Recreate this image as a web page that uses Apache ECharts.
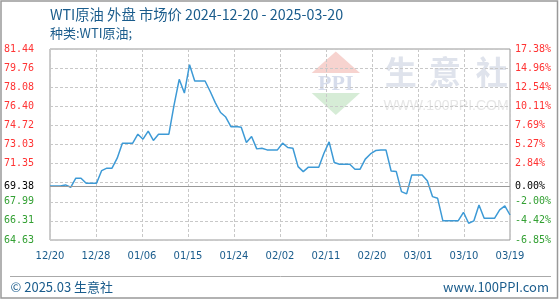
<!DOCTYPE html>
<html><head><meta charset="utf-8">
<script src="https://cdn.jsdelivr.net/npm/echarts@6/dist/echarts.min.js"></script>
<style>html,body{margin:0;padding:0;background:#fff}#c{width:560px;height:300px}</style>
</head><body><div id="c"></div>
<script>
const dates = [
'12/20','12/21','12/22','12/23','12/24','12/25','12/26','12/27','12/28','12/29','12/30','12/31',
'01/01','01/02','01/03','01/04','01/05','01/06','01/07','01/08','01/09','01/10','01/11','01/12','01/13','01/14','01/15','01/16','01/17','01/18','01/19','01/20','01/21','01/22','01/23','01/24','01/25','01/26','01/27','01/28','01/29','01/30','01/31',
'02/01','02/02','02/03','02/04','02/05','02/06','02/07','02/08','02/09','02/10','02/11','02/12','02/13','02/14','02/15','02/16','02/17','02/18','02/19','02/20','02/21','02/22','02/23','02/24','02/25','02/26','02/27','02/28',
'03/01','03/02','03/03','03/04','03/05','03/06','03/07','03/08','03/09','03/10','03/11','03/12','03/13','03/14','03/15','03/16','03/17','03/18','03/19'];
const prices = [
69.38,69.39,69.39,69.48,69.27,70.07,70.07,69.63,69.63,69.63,
70.74,70.95,70.95,71.83,73.15,73.15,73.15,73.94,73.50,74.21,
73.39,73.94,73.94,73.94,76.50,78.77,77.56,80.06,78.62,78.62,
78.62,77.70,76.70,75.85,75.45,74.60,74.62,74.56,73.21,73.74,
72.65,72.71,72.56,72.56,72.56,73.15,72.77,72.71,71.09,70.65,
71.04,71.04,71.04,72.27,73.27,71.45,71.30,71.30,71.30,70.86,
70.86,71.75,72.20,72.50,72.56,72.56,70.70,70.65,68.89,68.69,
70.36,70.36,70.36,69.85,68.45,68.30,66.33,66.33,66.33,66.33,
67.07,66.10,66.31,67.71,66.54,66.54,66.54,67.28,67.63,66.83];
const xTickLabels = ['12/20','12/28','01/06','01/15','01/24','02/02','02/11','02/20','03/01','03/10','03/19'];
const leftTicks = ['64.63','66.31','67.99','','71.35','73.03','74.72','76.40','78.08','79.76','81.44'];
const rightTicks = ['-6.85%','-4.42%','-2.00%','','2.84%','5.27%','7.69%','10.11%','12.54%','14.96%','17.38%'];
const baseValue = 69.38;
const baseLeft = '69.38';
const baseRight = '0.00%';
const yMin = 64.63, yMax = 81.44;
const titleText = 'WTI原油 外盘 市场价 2024-12-20 - 2025-03-20';
const subText = '种类:WTI原油;';

const RED = '#ff3333', GREEN = '#33a033', BLUE = '#1a5c8c';
const MONO = 'DejaVu Sans Mono';
const rich = {
  r: {color: RED, fontFamily: MONO, fontSize: 10},
  g: {color: GREEN, fontFamily: MONO, fontSize: 10}
};
function tickFmt(arr){
  return function(v){
    const i = Math.round(v); const t = arr[i];
    if(!t) return '';
    return '{' + (i < 3 ? 'g' : 'r') + '|' + t + '}';
  };
}
const chart = echarts.init(document.getElementById('c'), null, {renderer:'canvas'});
chart.setOption({
  animation: false,
  backgroundColor: '#fff',
  grid: {left: 50, right: 50, top: 49, bottom: 60, show: true, borderColor: '#999', borderWidth: 1, backgroundColor: 'transparent'},
  xAxis: [
    {type: 'category', data: dates, boundaryGap: false, show: false},
    {type: 'value', min: 0, max: 10, interval: 1, position: 'bottom',
     axisLine: {show: false}, axisTick: {show: false},
     splitLine: {show: true, lineStyle: {type: [3, 2], color: '#c8c8c8', width: 1}},
     axisLabel: {formatter: v => xTickLabels[Math.round(v)], color: BLUE, fontFamily: 'DejaVu Sans', fontSize: 10, margin: 11, showMinLabel: true, showMaxLabel: true}}
  ],
  yAxis: [
    {type: 'value', min: yMin, max: yMax, show: false},
    {type: 'value', min: 0, max: 10, interval: 1, position: 'left',
     axisLine: {show: false}, axisTick: {show: false},
     splitLine: {show: true, lineStyle: {type: [3, 2], color: '#c8c8c8', width: 1}},
     axisLabel: {formatter: tickFmt(leftTicks), rich: rich, margin: 16, showMinLabel: true, showMaxLabel: true}},
    {type: 'value', min: 0, max: 10, interval: 1, position: 'right',
     axisLine: {show: false}, axisTick: {show: false}, splitLine: {show: false},
     axisLabel: {formatter: tickFmt(rightTicks), rich: rich, margin: 5, showMinLabel: true, showMaxLabel: true}}
  ],
  graphic: [
    {type: 'rect', z: -10, shape: {x: 1, y: 1, width: 556.5, height: 297}, style: {fill: 'none', stroke: '#999', lineWidth: 1.5}},
    {type: 'polygon', z: -5, shape: {points: [[311.7, 73], [335.8, 51.5], [360, 73]]}, style: {fill: '#f7d3cf'}},
    {type: 'text', z: -5, style: {text: 'PPI', x: 335.8, y: 84, textAlign: 'center', textVerticalAlign: 'middle', font: 'bold 22px "Liberation Serif"', fill: '#d6dceb'}},
    {type: 'polygon', z: -5, shape: {points: [[311.7, 93], [360, 93], [335.8, 115]]}, style: {fill: '#d6ecd6'}},
    {type: 'text', z: -5, style: {text: '生', x: 400.7, y: 72, textAlign: 'center', textVerticalAlign: 'middle', font: 'bold 32px "Noto Sans CJK SC"', fill: '#dfe3ec'}},
    {type: 'text', z: -5, style: {text: '意', x: 445, y: 72, textAlign: 'center', textVerticalAlign: 'middle', font: 'bold 32px "Noto Sans CJK SC"', fill: '#dfe3ec'}},
    {type: 'text', z: -5, style: {text: '社', x: 491.7, y: 72, textAlign: 'center', textVerticalAlign: 'middle', font: 'bold 32px "Noto Sans CJK SC"', fill: '#dfe3ec'}},
    {type: 'text', z: -5, style: {text: 'WWW.100PPI.COM', x: 446, y: 106, textAlign: 'center', textVerticalAlign: 'middle', font: '14px "Liberation Sans"', fill: '#e6e6e6'}},
    {type: 'text', style: {text: titleText, x: 50, y: 15, textVerticalAlign: 'middle', font: '14.3px "Noto Sans CJK SC"', fill: BLUE}},
    {type: 'text', style: {text: subText, x: 50, y: 33, textVerticalAlign: 'middle', font: '13px "Noto Sans CJK SC"', fill: BLUE}},
    {type: 'line', shape: {x1: 10, y1: 276.5, x2: 551, y2: 276.5}, style: {stroke: '#aaa', lineWidth: 1}},
    {type: 'text', style: {text: '© 2025.03 生意社', x: 10.5, y: 287.5, textVerticalAlign: 'middle', font: '13px "Noto Sans CJK SC"', fill: BLUE}},
    {type: 'text', style: {text: 'www.100PPI.com', x: 549, y: 287.5, textAlign: 'right', textVerticalAlign: 'middle', font: '13px "Noto Sans CJK SC"', fill: BLUE}}
  ],
  series: [{
    type: 'line', xAxisIndex: 0, yAxisIndex: 0, data: prices, symbol: 'none', z: 3,
    lineStyle: {color: '#3d9ad6', width: 1.5},
    markLine: {silent: true, symbol: 'none', animation: false,
      lineStyle: {color: '#999', type: 'solid', width: 1},
      data: [
        {yAxis: baseValue, label: {position: 'start', formatter: baseLeft, distance: 16, color: '#000', fontFamily: MONO, fontSize: 10}},
        {yAxis: baseValue, label: {position: 'end', formatter: baseRight, distance: 5, color: '#000', fontFamily: MONO, fontSize: 10}}
      ]}
  }]
});
</script></body></html>
